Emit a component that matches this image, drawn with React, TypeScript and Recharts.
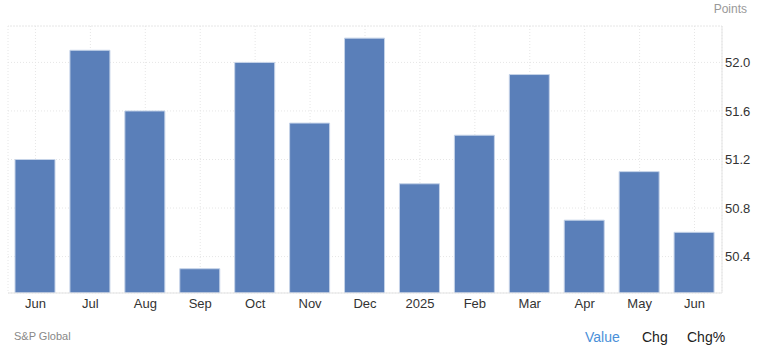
import React from "react";
import {
  BarChart,
  Bar,
  XAxis,
  YAxis,
  CartesianGrid,
  ReferenceLine,
} from "recharts";

const MONTHS = ["Jun", "Jul", "Aug", "Sep", "Oct", "Nov", "Dec", "2025", "Feb", "Mar", "Apr", "May", "Jun"];
const VALUES = [51.2, 52.1, 51.6, 50.3, 52.0, 51.5, 52.2, 51.0, 51.4, 51.9, 50.7, 51.1, 50.6];
const Y_TICKS = [50.4, 50.8, 51.2, 51.6, 52.0];
const Y_DOMAIN = [50.1, 52.3];

const data = MONTHS.map((m, i) => ({ key: i, month: m, value: VALUES[i] }));

const FONT = "'Liberation Sans', Arial, Helvetica, sans-serif";
const GRID = "#e6e6e6";

export default function App() {
  return (
    <div style={{ position: "absolute", left: 0, top: 0, width: 758, height: 354, background: "#fff", fontFamily: FONT }}>
      <BarChart
        width={758}
        height={354}
        data={data}
        margin={{ top: 26, right: 0, left: 8, bottom: 31 }}
        barCategoryGap={0}
      >
        <CartesianGrid stroke={GRID} strokeDasharray="1 2" />
        <XAxis
          dataKey="key"
          tickFormatter={(v) => MONTHS[v]}
          interval={0}
          height={30}
          tickLine={false}
          tickSize={0}
          tickMargin={6}
          axisLine={{ stroke: "#e3e3e3" }}
          tick={{ fill: "#333", fontSize: 13, fontFamily: FONT }}
        />
        <YAxis
          yAxisId="l"
          orientation="left"
          width={0}
          domain={Y_DOMAIN}
          tick={false}
          tickLine={false}
          axisLine={{ stroke: "#ebebeb" }}
        />
        <YAxis
          orientation="right"
          width={36}
          domain={Y_DOMAIN}
          ticks={Y_TICKS}
          allowDataOverflow
          tickFormatter={(v) => Number(v).toFixed(1)}
          tickLine={false}
          tickSize={0}
          tickMargin={3}
          axisLine={{ stroke: "#e3e3e3" }}
          tick={{ fill: "#333", fontSize: 13, fontFamily: FONT }}
        />
        <ReferenceLine y={52.3} stroke={GRID} strokeDasharray="1 2" />
        <Bar
          dataKey="value"
          barSize={40}
          fill="#5a7fb9"
          stroke="#c5d3e8"
          strokeWidth={1}
          isAnimationActive={false}
        />
      </BarChart>
      <div style={{ position: "absolute", right: 11, top: 2, fontSize: 12, color: "#999" }}>Points</div>
      <div style={{ position: "absolute", left: 14, top: 330, fontSize: 11, color: "#888" }}>S&amp;P Global</div>
      <div style={{ position: "absolute", left: 585, top: 329, fontSize: 14, color: "#4a90d9" }}>Value</div>
      <div style={{ position: "absolute", left: 642, top: 329, fontSize: 14, color: "#222" }}>Chg</div>
      <div style={{ position: "absolute", left: 687, top: 329, fontSize: 14, color: "#222" }}>Chg%</div>
    </div>
  );
}
